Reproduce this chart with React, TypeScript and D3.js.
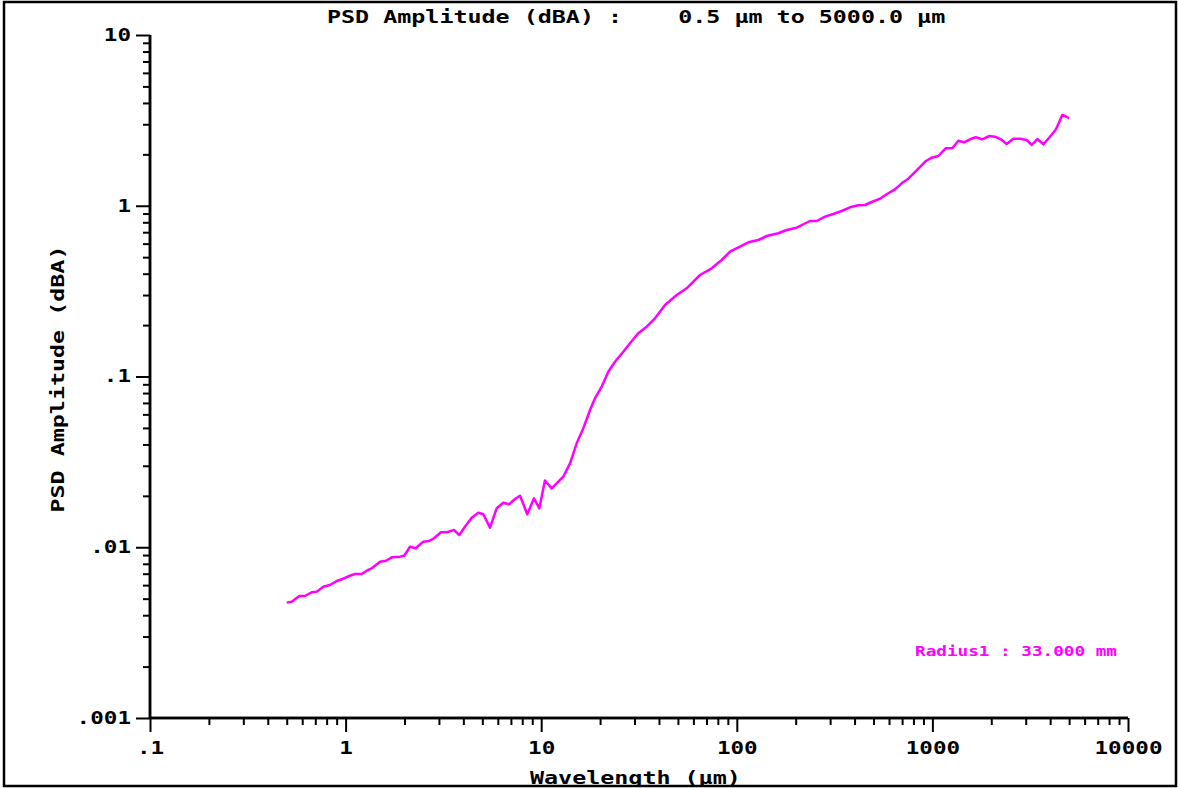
import React, { useRef, useEffect } from 'react';
import * as d3 from 'd3';

// wavelength (µm) and PSD amplitude (dBA)
const wavelength = [
  0.5, 0.53, 0.58, 0.62, 0.671, 0.712, 0.769, 0.832, 0.901, 0.966,
  1.053, 1.117, 1.208, 1.282, 1.36, 1.5, 1.609, 1.721, 1.897, 1.995,
  2.134, 2.282, 2.496, 2.669, 2.831, 3.074, 3.288, 3.583, 3.813, 4.077,
  4.413, 4.769, 5.058, 5.473, 5.922, 6.401, 6.845, 7.347, 7.793, 8.49,
  9.19, 9.78, 10.45, 11.31, 12.97, 14.04, 15.19, 16.42, 17.77, 18.84,
  20.38, 22.03, 23.84, 26.29, 28.44, 31.36, 34.63, 38.18, 42.95, 49.29,
  55.44, 64.86, 74.41, 83.71, 92.3, 103.8, 114.5, 128.8, 142.2, 163.0,
  179.9, 202.4, 236.7, 256.2, 282.4, 311.5, 343.9, 379.1, 418.0, 452.2,
  489.5, 539.7, 583.9, 643.8, 696.6, 753.0, 831.2, 927.5, 991.8, 1072,
  1169, 1264, 1357, 1451, 1557, 1665, 1799, 1947, 2089, 2262,
  2398, 2592, 2805, 3035, 3218, 3439, 3690, 3993, 4284, 4615,
  4764, 5000,
];
const amplitude = [
  0.00474, 0.0048, 0.00518, 0.00518, 0.00545, 0.00549, 0.00587, 0.00601, 0.00634, 0.00652,
  0.00681, 0.00697, 0.00697, 0.00729, 0.00753, 0.00823, 0.00834, 0.00873, 0.00881, 0.00892,
  0.01007, 0.00986, 0.01078, 0.01088, 0.01128, 0.01224, 0.01224, 0.01262, 0.01179, 0.01319,
  0.0149, 0.01593, 0.0156, 0.01302, 0.01691, 0.01823, 0.01784, 0.01917, 0.02004, 0.0156,
  0.01935, 0.01691, 0.02459, 0.02214, 0.02589, 0.03101, 0.04063, 0.04975, 0.06365, 0.07455,
  0.08716, 0.1067, 0.1221, 0.1397, 0.1564, 0.1791, 0.1957, 0.2192, 0.2622, 0.3001,
  0.3285, 0.393, 0.4302, 0.4812, 0.5381, 0.5757, 0.6107, 0.6301, 0.665, 0.6898,
  0.7211, 0.7439, 0.8141, 0.8141, 0.8629, 0.8948, 0.9318, 0.9793, 1.006, 1.01,
  1.052, 1.1, 1.167, 1.248, 1.353, 1.44, 1.613, 1.829, 1.912, 1.956,
  2.17, 2.17, 2.404, 2.353, 2.45, 2.517, 2.45, 2.561, 2.537, 2.427,
  2.299, 2.47, 2.47, 2.427, 2.269, 2.459, 2.29, 2.537, 2.804, 3.401,
  3.355, 3.253,
];

const xTickValues = [0.1, 1, 10, 100, 1000, 10000];
const xTickLabels = ['.1', '1', '10', '100', '1000', '10000'];
const yTickValues = [10, 1, 0.1, 0.01, 0.001];
const yTickLabels = ['10', '1', '.1', '.01', '.001'];

const titleText = 'PSD Amplitude (dBA) :    0.5 \u00b5m to 5000.0 \u00b5m';
const xAxisTitle = 'Wavelength (\u00b5m)';
const yAxisTitle = 'PSD Amplitude (dBA)';
const legendText = 'Radius1 : 33.000 mm';

const FONT = '"DejaVu Sans Mono", monospace';
const CHAR_W = 13.6;

const App = () => {
  const chart = useRef(null);

  useEffect(() => {
    d3.select(chart.current).selectAll('*').remove();

    const W = 1180;
    const H = 788;
    const margin = { top: 35, bottom: 70, left: 150, right: 52 };

    const svg = d3
      .select(chart.current)
      .append('svg')
      .attr('width', W)
      .attr('height', H)
      .style('position', 'absolute')
      .style('left', '0px')
      .style('top', '0px')
      .style('background', '#fff');

    const x = d3
      .scaleLog()
      .domain([0.1, 10000])
      .range([margin.left, W - margin.right]);
    const y = d3
      .scaleLog()
      .domain([0.001, 10])
      .range([H - margin.bottom, margin.top]);

    const isMajor = (v) => Math.abs(Math.log10(v) - Math.round(Math.log10(v))) < 1e-9;

    svg
      .append('clipPath')
      .attr('id', 'frameClip')
      .append('rect')
      .attr('x', 0)
      .attr('y', 0)
      .attr('width', W)
      .attr('height', 785);

    // frame
    svg
      .append('path')
      .attr('d', `M4,786 L4,2 L1176,2 L1176,786 Z`)
      .attr('fill', 'none')
      .attr('stroke', '#000')
      .attr('stroke-width', 2.5);

    // x axis: minor then major ticks
    const xMinor = x.ticks().filter((v) => !isMajor(v));
    const gx = svg.append('g').attr('transform', `translate(0, ${y(0.001)})`);
    gx.append('g').call(
      d3.axisBottom(x).tickValues(xMinor).tickSize(7).tickFormat(() => '')
    );
    gx.append('g').call(
      d3
        .axisBottom(x)
        .tickValues(xTickValues)
        .tickSize(14)
        .tickPadding(10)
        .tickFormat((d, i) => xTickLabels[i])
    );

    const yMinor = y.ticks().filter((v) => !isMajor(v));
    const gy = svg.append('g').attr('transform', `translate(${x(0.1)}, 0)`);
    gy.append('g').call(
      d3.axisLeft(y).tickValues(yMinor).tickSize(7).tickFormat(() => '')
    );
    gy.append('g').call(
      d3
        .axisLeft(y)
        .tickValues(yTickValues)
        .tickSize(14)
        .tickPadding(5)
        .tickFormat((d, i) => yTickLabels[i])
    );

    svg.selectAll('.domain').attr('stroke', '#000').attr('stroke-width', 2.5);
    svg.selectAll('.tick line').attr('stroke', '#000').attr('stroke-width', 2);
    svg
      .selectAll('.tick text')
      .attr('fill', '#000')
      .style('font-family', FONT)
      .style('font-weight', 'bold')
      .style('font-size', '17px')
      .attr('textLength', function () {
        return d3.select(this).text().length * CHAR_W;
      })
      .attr('lengthAdjust', 'spacingAndGlyphs');
    gx.selectAll('.domain').attr('d', `M${x(0.1)},0H${x(10000)}`);
    gy.selectAll('.domain').attr('d', `M0,${y(10)}V${y(0.001)}`);

    const label = (t, px, py) =>
      svg
        .append('text')
        .attr('x', px)
        .attr('y', py)
        .attr('xml:space', 'preserve')
        .style('white-space', 'pre')
        .text(t)
        .style('font-family', FONT)
        .style('font-weight', 'bold')
        .style('font-size', '17px')
        .attr('textLength', t.length * 14.05)
        .attr('lengthAdjust', 'spacingAndGlyphs');

    // title
    label(titleText, 327, 23).attr('fill', '#000');

    // x-axis title (cut by the frame like the original)
    label(xAxisTitle, 530, 784).attr('clip-path', 'url(#frameClip)');

    // y-axis title
    label(yAxisTitle, 0, 0)
      .attr('transform', `translate(64, ${379 + (yAxisTitle.length * 14.05) / 2}) rotate(-90)`);

    // curve
    const pts = wavelength.map((w, i) => [w, amplitude[i]]);
    const line = d3
      .line()
      .x((d) => x(d[0]))
      .y((d) => y(d[1]));
    svg
      .append('path')
      .datum(pts)
      .attr('d', line)
      .attr('fill', 'none')
      .attr('stroke', '#ff00ff')
      .attr('stroke-width', 2.5)
      .attr('stroke-linejoin', 'round');

    // legend
    svg
      .append('text')
      .attr('x', 915)
      .attr('y', 656)
      .text(legendText)
      .attr('fill', '#ff00ff')
      .style('font-family', FONT)
      .style('font-weight', 'bold')
      .style('font-size', '14px')
      .attr('textLength', 202)
      .attr('lengthAdjust', 'spacingAndGlyphs');
  }, []);

  return <div ref={chart}></div>;
};

export default App;
